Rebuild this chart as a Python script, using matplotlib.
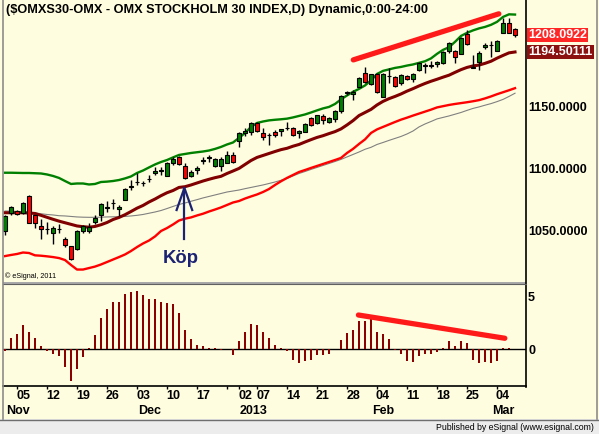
import numpy as np
import matplotlib
matplotlib.use('Agg')
import matplotlib.pyplot as plt
import matplotlib.transforms as mtransforms
from matplotlib.lines import Line2D
from matplotlib.patches import Rectangle

plt.rcParams['font.family'] = ['Liberation Sans', 'DejaVu Sans']

# ---------------- data ----------------
opens = [1049.8, 1063.9, 1065.5, 1064.3, 1077.9, 1062.2, 1053.3, 1051.2, 1047.6, 1051.0,
         1042.8, 1037.4, 1034.7, 1049.3, 1049.8, 1056.8, 1062.2, 1068.5, 1071.8, 1067.1,
         1074.6, 1085.2, 1088.8, 1088.4, 1091.4, 1096.3, 1098.2, 1094.1, 1104.9, 1109.2,
         1102.4, 1094.3, 1098.9, 1106.6, 1109.0, 1102.2, 1102.2, 1104.4, 1111.1, 1122.7,
         1128.9, 1130.0, 1136.8, 1128.7, 1127.1, 1129.7, 1130.3, 1132.8, 1132.7, 1128.9,
         1130.0, 1140.8, 1136.8, 1142.7, 1138.1, 1140.3, 1147.0, 1161.4, 1160.3, 1166.0,
         1177.6, 1168.6, 1176.7, 1157.9, 1174.9, 1174.1, 1169.2, 1175.1, 1172.4, 1180.0,
         1183.3, 1183.7, 1184.6, 1185.4, 1195.6, 1195.4, 1192.9, 1208.9, 1182.0, 1186.7,
         1198.4, 1200.0, 1195.6, 1210.2, 1218.3, 1212.9]
highs = [1062.2, 1069.8, 1066.5, 1073.0, 1078.7, 1062.4, 1059.0, 1056.8, 1053.6, 1055.2,
         1044.4, 1037.6, 1050.3, 1054.6, 1055.7, 1062.2, 1072.0, 1074.1, 1075.2, 1070.8,
         1084.4, 1090.8, 1096.3, 1090.3, 1094.9, 1101.6, 1101.6, 1105.7, 1109.7, 1110.3,
         1104.4, 1098.9, 1102.2, 1109.2, 1111.1, 1108.7, 1109.7, 1114.6, 1113.8, 1130.0,
         1132.7, 1138.1, 1138.1, 1132.7, 1128.7, 1131.4, 1132.4, 1138.1, 1134.0, 1131.4,
         1136.8, 1142.1, 1143.8, 1144.1, 1142.1, 1147.6, 1159.5, 1163.2, 1163.8, 1174.1,
         1182.4, 1177.0, 1177.3, 1177.3, 1181.4, 1175.1, 1176.7, 1175.7, 1177.8, 1186.7,
         1185.4, 1187.5, 1187.5, 1195.6, 1202.9, 1196.2, 1206.5, 1212.4, 1192.1, 1195.6,
         1202.1, 1203.7, 1204.3, 1221.9, 1221.9, 1213.8]
lows = [1046.3, 1062.5, 1062.2, 1063.1, 1056.0, 1051.9, 1043.3, 1047.1, 1039.0, 1047.9,
        1036.8, 1026.0, 1034.5, 1047.6, 1047.6, 1055.2, 1057.4, 1064.9, 1067.6, 1061.7,
        1074.4, 1082.7, 1086.8, 1086.0, 1089.5, 1094.9, 1094.6, 1094.0, 1103.0, 1103.0,
        1092.0, 1093.5, 1095.7, 1103.6, 1105.7, 1101.4, 1098.4, 1104.2, 1104.4, 1117.8,
        1126.7, 1127.3, 1129.7, 1123.3, 1119.2, 1125.9, 1126.5, 1131.4, 1126.5, 1124.6,
        1129.8, 1134.6, 1136.2, 1136.2, 1137.3, 1138.1, 1145.4, 1159.7, 1155.7, 1165.8,
        1169.2, 1167.8, 1161.6, 1157.7, 1169.7, 1166.0, 1167.8, 1171.9, 1170.5, 1179.4,
        1177.8, 1181.4, 1182.7, 1184.8, 1194.0, 1185.4, 1192.7, 1200.2, 1181.4, 1180.0,
        1196.7, 1190.8, 1195.4, 1209.7, 1209.5, 1207.0]
closes = [1061.7, 1069.2, 1063.3, 1072.4, 1056.2, 1055.7, 1051.4, 1050.9, 1051.9, 1051.3,
          1037.9, 1026.6, 1049.8, 1053.6, 1052.5, 1060.0, 1071.4, 1068.9, 1072.2, 1068.7,
          1083.8, 1085.6, 1089.2, 1088.0, 1091.8, 1098.1, 1098.6, 1104.9, 1108.1, 1103.6,
          1092.2, 1097.6, 1100.8, 1107.0, 1109.4, 1107.6, 1108.1, 1111.1, 1105.4, 1129.2,
          1130.5, 1137.3, 1130.8, 1125.9, 1127.5, 1127.1, 1131.9, 1133.2, 1127.3, 1130.5,
          1136.2, 1135.4, 1143.3, 1139.5, 1140.8, 1146.8, 1158.9, 1161.8, 1162.2, 1173.3,
          1170.3, 1176.7, 1162.4, 1176.7, 1175.3, 1167.0, 1175.7, 1172.4, 1176.7, 1185.9,
          1183.7, 1183.4, 1186.5, 1194.8, 1201.6, 1190.3, 1205.7, 1201.1, 1181.6, 1194.0,
          1200.2, 1200.4, 1203.7, 1218.3, 1209.7, 1208.0922]

upper_band = [1096.7, 1096.7, 1096.6, 1096.5, 1096.5, 1096.3, 1096.1, 1095.3, 1094.1, 1092.5,
              1090.0, 1087.6, 1088.0, 1088.0, 1087.2, 1087.6, 1089.2, 1089.5, 1090.0, 1090.8,
              1092.1, 1093.7, 1096.5, 1098.5, 1101.0, 1103.4, 1105.4, 1107.0, 1109.1, 1111.1,
              1111.9, 1112.7, 1113.3, 1113.9, 1114.7, 1116.0, 1117.6, 1119.6, 1121.2, 1124.9,
              1128.9, 1133.8, 1137.0, 1138.2, 1139.1, 1139.6, 1140.0, 1140.5, 1141.5, 1142.7,
              1143.9, 1145.5, 1147.2, 1148.8, 1150.0, 1152.4, 1156.1, 1159.3, 1162.2, 1164.6,
              1167.4, 1171.5, 1176.7, 1179.2, 1180.4, 1181.6, 1182.4, 1183.5, 1184.4, 1185.7,
              1187.0, 1189.3, 1193.0, 1196.2, 1198.4, 1202.7, 1207.5, 1210.0, 1212.0, 1213.6,
              1214.8, 1216.5, 1218.9, 1222.9, 1225.0, 1224.8]
mid_line = [1064.3, 1064.3, 1064.3, 1064.3, 1064.1, 1063.7, 1062.2, 1060.6, 1059.0, 1057.5,
            1056.2, 1054.9, 1053.6, 1053.0, 1052.6, 1053.2, 1054.6, 1056.4, 1058.8, 1060.5,
            1062.7, 1065.3, 1068.0, 1070.2, 1073.0, 1075.4, 1078.1, 1080.5, 1082.3, 1084.8,
            1085.4, 1086.8, 1088.4, 1090.0, 1091.4, 1092.7, 1093.8, 1096.1, 1098.1, 1100.2,
            1103.4, 1106.6, 1109.1, 1110.7, 1112.3, 1113.9, 1115.4, 1116.5, 1118.2, 1119.6,
            1121.6, 1123.5, 1125.3, 1126.7, 1128.4, 1130.0, 1132.2, 1135.4, 1138.9, 1143.0,
            1145.5, 1148.0, 1151.6, 1154.5, 1156.7, 1158.5, 1160.5, 1162.8, 1164.8, 1167.0,
            1169.0, 1170.8, 1172.4, 1174.1, 1175.7, 1178.0, 1180.2, 1182.0, 1183.2, 1183.9,
            1185.3, 1187.0, 1189.5, 1191.7, 1193.8, 1194.50111]
lower_band = [1029.2, 1030.1, 1030.9, 1032.1, 1031.7, 1029.8, 1029.5, 1029.0, 1028.4, 1027.6,
              1026.0, 1022.0, 1018.3, 1018.3, 1019.5, 1020.7, 1022.4, 1024.4, 1026.4, 1028.4,
              1030.5, 1033.3, 1036.5, 1039.4, 1041.8, 1045.1, 1049.5, 1051.9, 1054.8, 1058.0,
              1059.5, 1060.5, 1062.1, 1063.5, 1065.3, 1066.9, 1068.6, 1070.6, 1072.6, 1073.8,
              1075.8, 1077.5, 1079.1, 1081.1, 1083.5, 1086.8, 1089.8, 1092.5, 1094.9, 1097.3,
              1098.9, 1100.6, 1102.2, 1103.8, 1105.4, 1107.0, 1108.7, 1112.7, 1116.0, 1120.0,
              1123.7, 1128.9, 1131.8, 1133.8, 1135.8, 1137.8, 1139.7, 1141.3, 1143.0, 1144.6,
              1146.2, 1147.8, 1149.6, 1150.6, 1151.6, 1152.4, 1153.1, 1153.8, 1154.6, 1155.5,
              1156.9, 1158.5, 1160.3, 1161.9, 1163.5, 1165.2]
slow_ma = [1065.7, 1065.6, 1065.3, 1064.9, 1064.5, 1064.1, 1063.5, 1062.9, 1062.5, 1061.9,
           1061.7, 1061.3, 1060.9, 1060.7, 1060.6, 1060.6, 1060.7, 1060.9, 1061.0, 1061.1,
           1061.3, 1061.7, 1062.2, 1062.9, 1063.9, 1064.9, 1066.1, 1067.7, 1069.4, 1071.0,
           1072.2, 1073.6, 1074.9, 1076.3, 1077.5, 1078.7, 1079.9, 1081.1, 1081.9, 1082.7,
           1083.8, 1084.8, 1085.8, 1086.8, 1088.0, 1089.2, 1090.6, 1092.1, 1094.1, 1096.1,
           1097.7, 1099.4, 1101.0, 1102.6, 1104.2, 1105.8, 1107.5, 1109.5, 1111.5, 1113.5,
           1115.7, 1117.3, 1119.6, 1121.2, 1122.9, 1124.5, 1126.1, 1128.1, 1130.5, 1133.8,
           1136.2, 1138.2, 1140.3, 1141.5, 1142.7, 1144.1, 1145.5, 1147.2, 1148.8, 1150.0,
           1151.4, 1152.7, 1154.3, 1156.1, 1158.5, 1161.1]
histogram = [-0.2, 1.1, 1.5, 2.3, 1.65, 1.1, 0.3, -0.15, -0.45, -0.65,
             -1.7, -3.0, -1.85, -0.7, 0.15, 1.4, 3.0, 3.8, 4.5, 4.5,
             5.25, 5.45, 5.55, 5.15, 4.8, 4.8, 4.5, 4.4, 4.35, 3.45,
             1.85, 1.0, 0.4, 0.3, 0.15, 0.1, -0.1, 0.05, -0.5, 0.8,
             1.65, 2.45, 2.35, 1.65, 1.1, 0.4, 0.1, -0.2, -1.0, -1.3,
             -1.1, -1.0, -0.5, -0.5, -0.4, 0.05, 0.9, 1.55, 1.85, 2.7,
             2.7, 2.85, 1.65, 1.5, 1.0, -0.1, -0.4, -1.1, -1.2, -0.6,
             -0.4, -0.4, -0.3, 0.1, 0.8, 0.3, 0.8, 0.6, -1.0, -1.3,
             -1.25, -1.3, -1.1, 0.1, 0.1, 0.02]

price_ticks = [1050, 1100, 1150]
hist_ticks = [0, 5]
day_labels = ['05', '12', '19', '26', '03', '10', '17', '02', '07', '14', '21', '28',
              '04', '11', '18', '25', '04']
day_index = [3, 8, 13, 18, 23, 28, 33, 40, 43, 48, 53, 58, 63, 68, 73, 78, 83]
month_labels = ['Nov', 'Dec', '2013', 'Feb', 'Mar']
month_index = [1, 23, 40, 62, 82]
week_end_index = [2, 7, 12, 17, 22, 27, 32, 37, 39, 42, 47, 52, 57, 62, 67, 72, 77, 82]

# ---------------- figure ----------------
W, H = 599, 434
BG = '#FFFDDF'
fig = plt.figure(figsize=(W / 100, H / 100), dpi=100)
fig.patch.set_facecolor(BG)


def fline(x0, y0, x1, y1, **kw):
    fig.add_artist(Line2D([x0 / W, x1 / W], [1 - y0 / H, 1 - y1 / H],
                          transform=fig.transFigure, **kw))


def frect(x0, y0, x1, y1, **kw):
    fig.add_artist(Rectangle((x0 / W, 1 - y1 / H), (x1 - x0) / W, (y1 - y0) / H,
                             transform=fig.transFigure, **kw))


ax1 = fig.add_axes([3 / W, 1 - 283 / H, 523 / W, 283 / H])
ax2 = fig.add_axes([3 / W, 1 - 386 / H, 523 / W, 100 / H])
for ax in (ax1, ax2):
    ax.set_facecolor(BG)
    for s in ax.spines.values():
        s.set_visible(False)
    ax.set_xlim(-1 / 3, 86.83)

ax1.set_ylim(1007.4, 1236.6)
ax2.set_ylim(-3.49, 6.02)

idx = np.arange(len(closes))
o = np.array(opens)
c = np.array(closes)
hi = np.array(highs)
lo = np.array(lows)

# indicator lines
ax1.plot(idx, slow_ma, color='#808080', lw=0.8, zorder=2)
ax1.plot(idx, lower_band, color='#FF0000', lw=1.7, zorder=2)
ax1.plot(idx, mid_line, color='#800000', lw=2.2, zorder=2)
ax1.plot(idx, upper_band, color='#008000', lw=1.7, zorder=2)

# candles
ax1.vlines(idx, lo, hi, color='black', lw=1.0, zorder=3)
bottom = np.minimum(o, c)
height = np.maximum(np.abs(c - o), 0.35)
up = c >= o
ax1.bar(idx[up], height[up], bottom=bottom[up], width=0.8, color='#008000',
        edgecolor='black', lw=0.8, zorder=4)
ax1.bar(idx[~up], height[~up], bottom=bottom[~up], width=0.8, color='#FF0000',
        edgecolor='black', lw=0.8, zorder=4)

# trend annotation on price
ax1.plot([58.05, 82.3], [1188.1, 1225.4], color='#FF1A1A', lw=3.8,
         solid_capstyle='round', zorder=6)

# Köp arrow
navy = '#1C2374'
ax1.plot([29.9, 29.9], [1043.0, 1084.4], color=navy, lw=1.6, zorder=6)
ax1.plot([28.6, 29.9, 31.2], [1066.5, 1084.4, 1066.5], color=navy, lw=1.6, zorder=6)
ax1.text(29.3, 1027.6, 'Köp', color=navy, fontsize=13.3, fontweight='bold',
         ha='center', va='center', zorder=6)

# title and copyright
fig.text(5.5 / W, 1 - 10.5 / H, '($OMXS30-OMX - OMX STOCKHOLM 30 INDEX,D) Dynamic,0:00-24:00',
         fontsize=9.2, fontweight='bold', ha='left', va='center', zorder=10)
ax1.text(2 / 523, 1 - 276 / 283, '© eSignal, 2011', transform=ax1.transAxes,
         fontsize=5.2, ha='left', va='center')

# price axis
ax1.yaxis.tick_right()
ax1.set_yticks(price_ticks)
ax1.set_yticklabels([f'{v:.4f}' for v in price_ticks], fontsize=9, fontweight='bold')
ax1.tick_params(axis='y', length=0, pad=1.5)
ax1.set_xticks([])

trans = mtransforms.blended_transform_factory(ax1.transAxes, ax1.transData)
ax1.text(1.0045, closes[-1], f'{closes[-1]:.4f}', transform=trans, color='white',
         fontsize=9, fontweight='bold', ha='left', va='center', clip_on=False,
         bbox=dict(boxstyle='square,pad=0.08', fc='#FF2626', ec='none'))
ax1.text(1.0045, mid_line[-1], f'{mid_line[-1]:.5f}', transform=trans, color='white',
         fontsize=9, fontweight='bold', ha='left', va='center', clip_on=False,
         bbox=dict(boxstyle='square,pad=0.08', fc='#8B1010', ec='none'))

# histogram panel
ax2.bar(idx, histogram, width=0.34, color='#8B0000', zorder=3)
ax2.axhline(0, color='black', lw=1.0, zorder=2)
ax2.plot([58.9, 83.3], [3.26, 1.05], color='#FF1A1A', lw=3.8,
         solid_capstyle='round', zorder=6)
ax2.yaxis.tick_right()
ax2.set_yticks(hist_ticks)
ax2.set_yticklabels([str(v) for v in hist_ticks], fontsize=9, fontweight='bold')
ax2.tick_params(axis='y', length=0, pad=1.5)
ax2.set_xticks(day_index)
ax2.set_xticklabels(day_labels, fontsize=9, fontweight='bold')
ax2.tick_params(axis='x', which='major', length=0, pad=3.2)
ax2.set_xticks(week_end_index, minor=True)
ax2.tick_params(axis='x', which='minor', length=2.5, width=1, color='black', direction='out')
ax2.spines['bottom'].set_visible(True)
ax2.spines['bottom'].set_color('black')
ax2.spines['bottom'].set_linewidth(1.2)
mtrans = mtransforms.blended_transform_factory(ax2.transData, ax2.transAxes)
for lab, i in zip(month_labels, month_index):
    ax2.text(i - 0.85, -0.25, lab, transform=mtrans, fontsize=9, fontweight='bold',
             ha='left', va='center', clip_on=False)

# chrome
fline(526, 0, 526, 386.5, color='black', lw=1.2)
frect(3, 281.5, 526, 284.5, color='#A9A9A9', lw=0)
fline(3, 284.3, 526, 284.3, color='#606060', lw=0.8)
fline(3, 0, 3, 419, color='#8C8C8C', lw=1.2)
fline(597, 0, 597, 419, color='#8C8C8C', lw=1.2)
frect(0, 419, W, H, color='#ECECEC', lw=0)
fline(0, 419.5, 599, 419.5, color='#6E6E6E', lw=1.0)
fig.text(594 / W, 1 - 428 / H, 'Published by eSignal (www.esignal.com)', fontsize=6.3,
         ha='right', va='center')

fig.savefig('out.png', dpi=100, facecolor=fig.get_facecolor())
